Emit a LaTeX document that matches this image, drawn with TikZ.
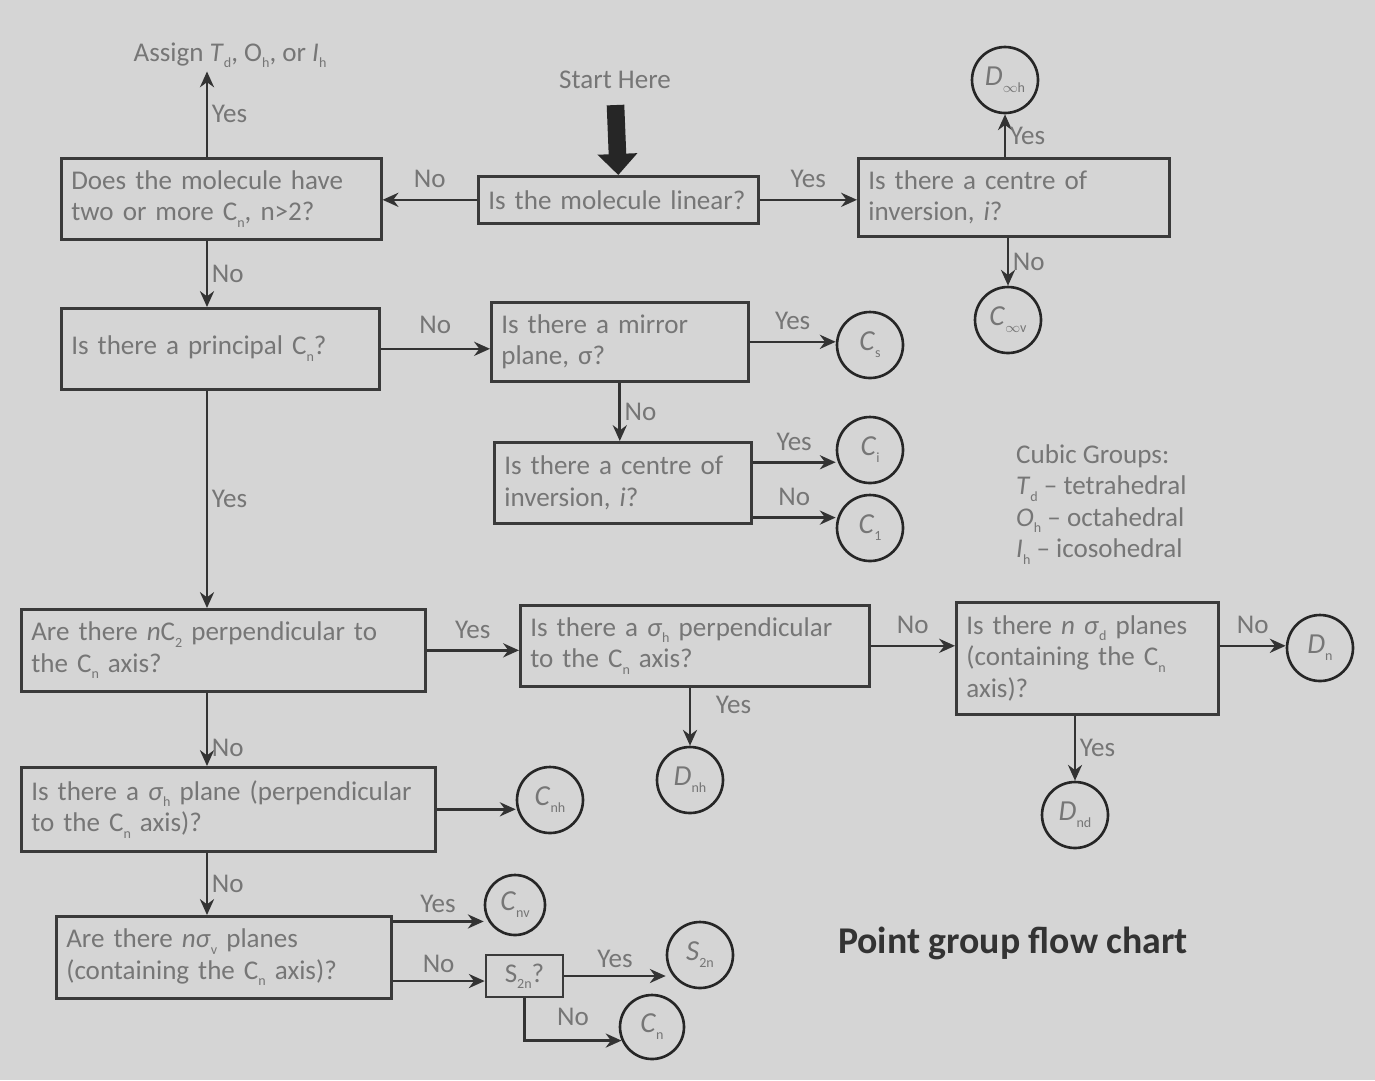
\documentclass[tikz,border=0pt]{standalone}
\usepackage{fontspec}
\setmainfont{Carlito}
\usetikzlibrary{arrows.meta}
\definecolor{paper}{HTML}{D5D5D5}
\definecolor{ink}{HTML}{767676}
\definecolor{rule}{HTML}{3A3A3A}
\newcommand{\lo}[1]{\raisebox{-0.5ex}{\footnotesize #1}}
\begin{document}
\begin{tikzpicture}[x=0.02cm,y=-0.02cm,
    font=\fontsize{15.4}{18}\selectfont,
    qbox/.style={draw=rule, line width=1.5pt, text=ink, align=left,
      anchor=north west, inner xsep=0.2cm, inner ysep=0pt},
    grp/.style={draw=black!85, circle, line width=1.5pt, minimum size=1.32cm,
      inner sep=0pt, text=ink, font=\fontsize{16.5}{19}\selectfont},
    arr/.style={draw=black!80, line width=1.5pt, -{Stealth[length=9pt,width=8pt]}},
    lbl/.style={text=ink, inner sep=2pt}]
  % background
  \fill[paper] (0,0) rectangle (1375,1080);
  \coordinate (spine) at (207,0);

  % top row
  \node[lbl] (assign) at (230,55) {Assign \textit{T}\lo{d}, O\lo{h}, or \textit{I}\lo{h}};
  \node[lbl] (start) at (615,80) {Start Here};
  \node[qbox, text width=6.0cm, minimum height=1.62cm] (two) at (60,157)
    {Does the molecule have\\two or more C\lo{n}, n>2?};
  \node[qbox, text width=5.2cm, minimum height=0.94cm] (linear) at (477,175)
    {Is the molecule linear?};
  \node[qbox, text width=5.82cm, minimum height=1.56cm] (cent1) at (857,157)
    {Is there a centre of\\inversion, \textit{i}?};
  \node[grp] (dinf) at (1005,80) {\textit{D}\lo{$\infty$h}};
  \node[grp] (cinf) at (1008,320) {\textit{C}\lo{$\infty$v}};

  % low symmetry
  \node[qbox, text width=5.96cm, minimum height=1.62cm] (princ) at (60,307)
    {Is there a principal C\lo{n}?};
  \node[qbox, text width=4.74cm, minimum height=1.58cm] (mirror) at (490,301)
    {Is there a mirror\\plane, σ?};
  \node[grp] (cs) at (870,345) {\textit{C}\lo{s}};
  \node[qbox, text width=4.74cm, minimum height=1.62cm] (cent2) at (493,441)
    {Is there a centre of\\inversion, \textit{i}?};
  \node[grp] (ci) at (870,450) {\textit{C}\lo{i}};
  \node[grp] (cone) at (870,528) {\textit{C}\lo{1}};
  \node[text=ink, align=left, anchor=north west] (cubic) at (1010,438)
    {Cubic Groups:\\\textit{T}\lo{d} -- tetrahedral\\\textit{O}\lo{h} -- octahedral\\\textit{I}\lo{h} -- icosohedral};

  % dihedral
  \node[qbox, text width=7.68cm, minimum height=1.64cm] (ncc) at (20,608)
    {Are there \textit{n}C\lo{2} perpendicular to\\the C\lo{n} axis?};
  \node[qbox, text width=6.58cm, minimum height=1.62cm] (sigh) at (519,604)
    {Is there a \textit{σ}\lo{h} perpendicular\\to the C\lo{n} axis?};
  \node[qbox, text width=4.84cm, minimum height=2.24cm] (sigd) at (955,601)
    {Is there \textit{n} \textit{σ}\lo{d} planes\\(containing the C\lo{n}\\axis)?};
  \node[grp] (dn) at (1320,648) {\textit{D}\lo{n}};
  \node[grp] (dnh) at (690,780) {\textit{D}\lo{nh}};
  \node[grp] (dnd) at (1075,815) {\textit{D}\lo{nd}};

  % cyclic
  \node[qbox, text width=7.88cm, minimum height=1.68cm] (sigp) at (20,766)
    {Is there a \textit{σ}\lo{h} plane (perpendicular\\to the C\lo{n} axis)?};
  \node[grp] (cnh) at (550,800) {\textit{C}\lo{nh}};
  \node[qbox, text width=6.3cm, minimum height=1.64cm] (sigv) at (55,915)
    {Are there \textit{nσ}\lo{v} planes\\(containing the C\lo{n} axis)?};
  \node[grp, minimum size=1.2cm] (cnv) at (515,905) {\textit{C}\lo{nv}};
  \node[qbox, anchor=center, align=center, minimum width=1.54cm, minimum height=0.84cm,
    inner xsep=0pt] (stwo) at (524.5,976) {S\lo{2n}?};
  \node[grp] (s2n) at (700,955) {\textit{S}\lo{2n}};
  \node[grp, minimum size=1.28cm] (cn) at (652,1027) {\textit{C}\lo{n}};
  \node[font=\fontsize{21.5}{25}\selectfont\bfseries, text=black!80] (title) at (1013,943)
    {Point group flow chart};

  % start arrow
  \draw[line width=10pt, black!85, shorten <=7pt,
    -{Triangle[length=12pt,width=22pt]}] (start.south) -- (linear.north);

  % connectors
  \draw[arr] (two.north -| spine) -- node[lbl, right] (y1) {Yes} (assign.south -| spine);
  \draw[arr] (linear.west) -- node[lbl, above=4pt] (n1) {No} (linear.west -| two.east);
  \draw[arr] (linear.east) -- node[lbl, above=4pt] (y2) {Yes} (linear.east -| cent1.west);
  \draw[arr] (cent1.north -| dinf) -- node[lbl, right] (y3) {Yes} (dinf);
  \draw[arr] (cent1.south -| cinf) -- node[lbl, right] (n2) {No} (cinf);
  \draw[arr] (two.south -| spine) -- node[lbl, right] (n3) {No} (princ.north -| spine);
  \draw[arr] (princ.east) -- node[lbl, above=6pt] (n4) {No} (princ.east -| mirror.west);
  \draw[arr] (mirror.east) -- node[lbl, above=4pt] (y4) {Yes} (mirror.east -| cs.west);
  \draw[arr] (mirror.south) -- node[lbl, right] (n5) {No} (cent2.north -| mirror.south);
  \draw[arr] (cent2.9) -- node[lbl, above=4pt] (y5) {Yes} (cent2.9 -| ci.west);
  \draw[arr] (cent2.-15) -- node[lbl, above=4pt] (n6) {No} (cent2.-15 -| cone.west);
  \draw[arr] (princ.south -| spine) -- node[lbl, right] (y6) {Yes} (ncc.north -| spine);
  \draw[arr] (ncc.east) -- node[lbl, above=4pt] (y7) {Yes} (ncc.east -| sigh.west);
  \draw[arr] (sigh.east) -- node[lbl, above=4pt] (n7) {No} (sigh.east -| sigd.west);
  \draw[arr] (sigh.east -| sigd.east) -- node[lbl, above=4pt] (n8) {No} (sigh.east -| dn.west);
  \draw[arr] (sigh.south -| dnh) -- node[lbl, right=12pt, pos=0.3] (y8) {Yes} (dnh);
  \draw[arr] (sigd.south -| dnd) -- node[lbl, right] (y9) {Yes} (dnd);
  \draw[arr] (ncc.south -| spine) -- node[lbl, right, pos=0.75] (n9) {No} (sigp.north -| spine);
  \draw[arr] (sigp.east) -- (sigp.east -| cnh.west);
  \draw[arr] (sigp.south -| spine) -- node[lbl, right] (n10) {No} (sigv.north -| spine);
  \draw[arr] (sigv.12) -- node[lbl, above=2pt] (y10) {Yes} (sigv.12 -| cnv.west);
  \draw[arr] (sigv.-8) -- node[lbl, above=2pt] (n11) {No} (sigv.-8 -| stwo.west);
  \draw[arr] (stwo.east) -- node[lbl, above=2pt] (y11) {Yes} (stwo.east -| s2n.west);
  \draw[arr] (stwo.south) |- node[lbl, above=6pt, pos=0.75] (n12) {No} (cn.204);
\end{tikzpicture}
\end{document}
